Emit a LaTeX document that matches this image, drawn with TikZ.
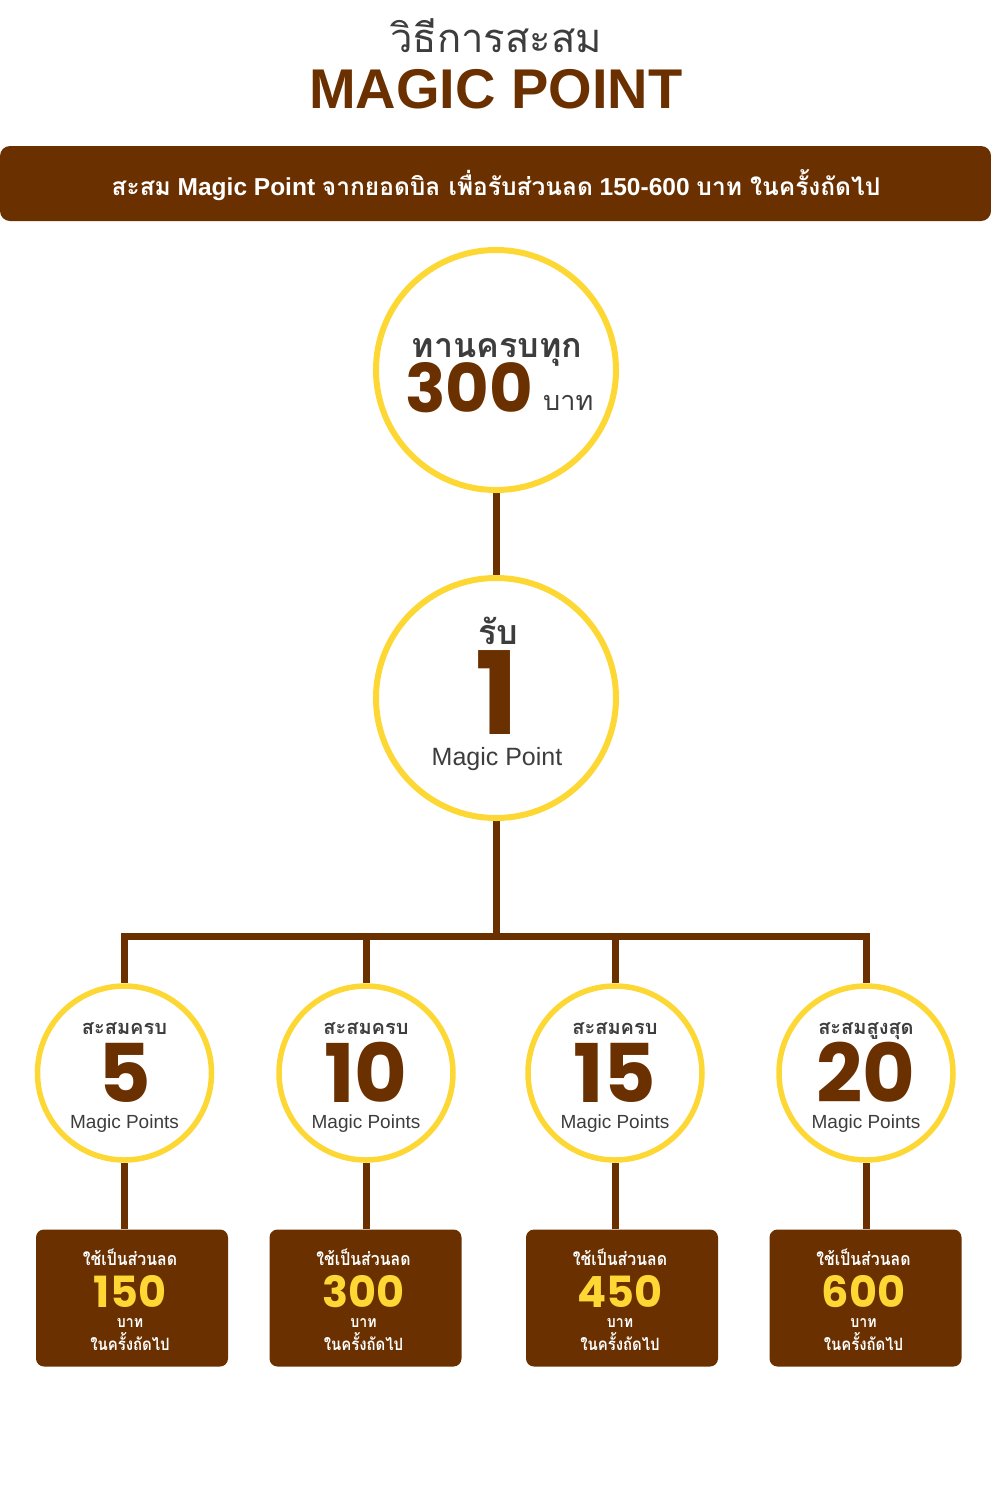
\documentclass[tikz,border=0pt]{standalone}
\usepackage{fontspec}
\setmainfont{Liberation Sans}
\newfontfamily\thai[Script=Thai]{Loma}
\newfontfamily\thaic[Script=Thai,FakeStretch=0.88]{Loma}
\newfontfamily\pop{Poppins}
\usetikzlibrary{backgrounds}
\definecolor{brn}{HTML}{6A3000}
\definecolor{ylw}{HTML}{FDD835}
\definecolor{gry}{HTML}{3D3D3D}
\begin{document}
\begin{tikzpicture}[x=1pt,y=-1pt,
  bigcirc/.style={circle,draw=ylw,line width=6pt,fill=white,minimum size=240pt,inner sep=0pt},
  smallcirc/.style={circle,draw=ylw,line width=5.5pt,fill=white,minimum size=174pt,inner sep=0pt},
  conn/.style={draw=brn,line width=7pt},
  rewbox/.style={fill=brn,rounded corners=8pt,minimum width=192pt,minimum height=137pt,inner sep=0pt},
  txt/.style={inner sep=0pt,anchor=base},
  thtitle/.style={txt,text=gry,font=\thai\fontsize{40}{46}\selectfont},
  thgray/.style={txt,text=gry,font=\thai\bfseries\fontsize{34}{40}\selectfont},
  thsmall/.style={txt,text=gry,font=\thai\bfseries\fontsize{20}{22}\selectfont},
  thwhite/.style={txt,text=white,font=\thaic\bfseries\fontsize{18}{20}\selectfont},
  numbig/.style={txt,text=brn,font=\pop\bfseries\fontsize{#1}{#1}\selectfont},
  numyel/.style={txt,text=ylw,font=\pop\bfseries\fontsize{43}{43}\selectfont},
  mpt/.style={txt,text=gry,font=\fontsize{#1}{#1}\selectfont}
]
\useasboundingbox (0,0) rectangle (991,1492);

% heading
\node[thtitle] (title) at (496,52) {วิธีการสะสม};
\node[txt,text=brn,font=\bfseries\fontsize{56}{60}\selectfont] (mp) at (496,108) {MAGIC POINT};
\node[fill=brn,rounded corners=10pt,minimum width=991pt,minimum height=75pt,inner sep=0pt] (bar) at (495.5,183.5) {};
\node[txt,text=white,font=\bfseries\fontsize{24.5}{28}\selectfont] (bartext) at (496,195)
  {{\thai สะสม} Magic Point {\thai จากยอดบิล เพื่อรับส่วนลด} 150-600 {\thai บาท ในครั้งถัดไป}};

% top circles
\node[bigcirc] (c1) at (496,370) {};
\node[thgray] (c1a) at (497,357) {ทานครบทุก};
\node[numbig=67,anchor=base west] (c1b) at (405,412) {300};
\node[txt,anchor=base west,text=gry,font=\thai\fontsize{27}{30}\selectfont] (c1c) at (543,410) {บาท};

\node[bigcirc] (c2) at (496,698) {};
\node[thgray] (c2a) at (498,644) {รับ};
\node[numbig=115] (c2b) at (497,734) {1};
\node[mpt=25] (c2c) at (497,765) {Magic Point};

\coordinate (hub) at (496,936.5);

% level 3
\foreach \n/\cx/\bx/\lab/\num/\amt in {a/124.5/132/สะสมครบ/5/150, b/366/365.5/สะสมครบ/10/300, c/615/622/สะสมครบ/15/450, d/866/865.5/สะสมสูงสุด/20/600}{
  \node[smallcirc] (circ\n) at (\cx,1073) {};
  \node[thsmall] (lab\n) at (\cx,1034) {\lab};
  \node[numbig=81] (num\n) at (\cx,1102) {\num};
  \node[mpt=19] (mp\n) at (\cx,1128) {Magic Points};
  \node[rewbox] (box\n) at (\bx,1298) {};
  \node[thwhite] (bl\n) at (\bx-2,1265) {ใช้เป็นส่วนลด};
  \node[numyel] (ba\n) at (\bx-2,1307) {\amt};
  \node[thwhite,font=\thaic\bfseries\fontsize{16}{18}\selectfont] (bu\n) at (\bx-2,1327) {บาท};
  \node[thwhite,font=\thaic\bfseries\fontsize{17}{19}\selectfont] (bn\n) at (\bx-2,1350) {ในครั้งถัดไป};
  \begin{scope}[on background layer]
    \draw[conn] (circ\n.south) -- (circ\n.south |- box\n.north);
    \draw[conn] (circ\n.north) |- (hub);
  \end{scope}
}

\begin{scope}[on background layer]
  \draw[conn] (c1.south) -- (c2.north);
  \draw[conn] (c2.south) -- (hub);
\end{scope}
\end{tikzpicture}
\end{document}
